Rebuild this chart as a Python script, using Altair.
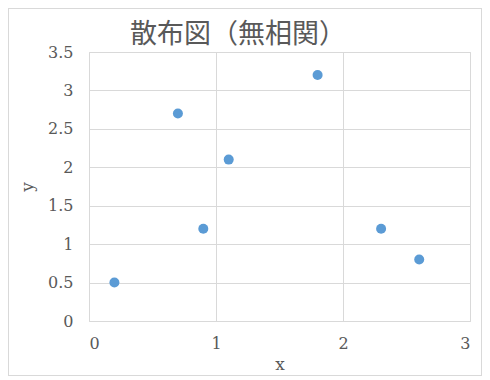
import altair as alt
import pandas as pd

xs = [0.2, 0.7, 0.9, 1.1, 1.8, 2.3, 2.6]
ys = [0.5, 2.7, 1.2, 2.1, 3.2, 1.2, 0.8]
title_text = "散布図（無相関）"

df = pd.DataFrame({"x": xs, "y": ys})

W, H = 381, 269
serif = "DejaVu Serif"
txt = "#595959"

points = alt.Chart(df).mark_circle(size=100, color="#5b9bd5", opacity=1).encode(
    x=alt.X("x:Q", scale=alt.Scale(domain=[0, 3], nice=False),
            axis=alt.Axis(values=[0, 1, 2, 3], title="x", format="d")),
    y=alt.Y("y:Q", scale=alt.Scale(domain=[0, 3.5], nice=False),
            axis=alt.Axis(values=[0, 0.5, 1, 1.5, 2, 2.5, 3, 3.5], title="y", format="~g")),
)

border = alt.Chart(df).mark_rect(fill=None, stroke="#d9d9d9", strokeWidth=1).encode(
    x=alt.value(-80.5), x2=alt.value(W + 11.5),
    y=alt.value(-43.5), y2=alt.value(H + 54.5),
)

title = alt.Chart(pd.DataFrame({"t": [title_text]})).mark_text(
    font="Noto Sans CJK JP", fontSize=27, color=txt, baseline="middle", align="center"
).encode(text="t:N", x=alt.value(149), y=alt.value(-17))

chart = alt.layer(border, points, title).properties(
    width=W, height=H,
    autosize=alt.AutoSizeParams(type="none"),
    padding={"left": 81, "top": 44, "right": 12, "bottom": 56},
).configure(font=serif).configure_view(stroke="#d9d9d9").configure_axis(
    domain=False, ticks=False, grid=True, gridColor="#d9d9d9", gridWidth=1,
    labelFont=serif, labelFontSize=16, labelColor=txt,
    titleFont=serif, titleFontSize=17, titleColor=txt, titleFontWeight="normal",
).configure_axisX(labelPadding=14, titlePadding=5).configure_axisY(
    labelPadding=16, titlePadding=11)

chart.save("out.html", embed_options={"renderer": "svg", "actions": False})
